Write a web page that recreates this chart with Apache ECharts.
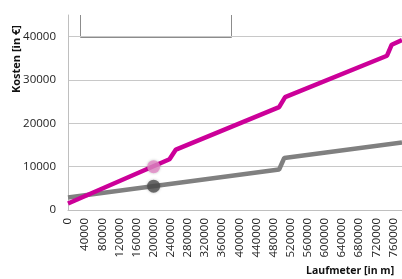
<!DOCTYPE html>
<html lang="de">
<head>
<meta charset="UTF-8">
<title>Kosten</title>
<style>
  html, body { margin: 0; padding: 0; background: #fff; }
  #chart { width: 402px; height: 279px; }
</style>
</head>
<body>
<div id="chart"></div>
<script src="https://cdn.jsdelivr.net/npm/echarts@6/dist/echarts.min.js"></script>
<script>
  // Laufmeter [m] / Kosten [EUR]
  const magentaLine = [
    [0, 1500], [237000, 11700], [252000, 13950], [493000, 23750],
    [507000, 26050], [745000, 35600], [756000, 38150], [780000, 39200]
  ];
  const grayLine = [
    [0, 2900], [493000, 9350], [505000, 12000], [780000, 15600]
  ];
  const magentaPoint = [[200000, 10000]];
  const grayPoint = [[200000, 5500]];

  const xTicks = { min: 0, max: 780000, step: 40000 };
  const yTicks = { min: 0, max: 45000, step: 10000 };

  const font = 'Open Sans';
  const plain = v => String(v);
  const chart = echarts.init(document.getElementById('chart'));

  chart.setOption({
    animation: false,
    grid: { left: 68, right: -2, top: 15, bottom: 69 },
    xAxis: {
      type: 'value',
      min: xTicks.min, max: xTicks.max, interval: xTicks.step,
      axisLine: { show: true, onZero: false, lineStyle: { color: '#bfbfbf', width: 1 } },
      axisTick: { show: false },
      splitLine: { show: false },
      axisLabel: {
        rotate: 90, margin: 8, color: '#222', fontFamily: font, fontSize: 11.5,
        showMaxLabel: false, formatter: plain
      }
    },
    yAxis: {
      type: 'value',
      min: yTicks.min, max: yTicks.max, interval: yTicks.step,
      axisLine: { show: true, lineStyle: { color: '#bfbfbf', width: 1 } },
      axisTick: { show: false },
      splitLine: { show: true, showMaxLine: false, lineStyle: { color: '#c8c8c8', width: 1 } },
      axisLabel: {
        margin: 12, color: '#222', fontFamily: font, fontSize: 11.5,
        showMaxLabel: false, formatter: plain
      }
    },
    graphic: [
      {
        type: 'polyline', silent: true,
        shape: { points: [[80.5, 15], [80.5, 37.5], [231.5, 37.5], [231.5, 15]] },
        style: { stroke: '#8c8c8c', fill: null, lineWidth: 1 }
      },
      {
        type: 'text', x: 11, y: 93, rotation: Math.PI / 2,
        style: { text: 'Kosten [in €]', fill: '#111', font: 'bold 11px "Open Sans"' }
      },
      {
        type: 'text', x: 306, y: 266,
        style: { text: 'Laufmeter [in m]', fill: '#111', font: 'bold 10.5px "Open Sans"' }
      }
    ],
    series: [
      {
        type: 'line', data: grayLine, symbol: 'none',
        lineStyle: { color: '#808080', width: 4.5 }, z: 2
      },
      {
        type: 'line', data: magentaLine, symbol: 'none',
        lineStyle: { color: '#cc0099', width: 4.5 }, z: 3
      },
      {
        type: 'scatter', data: grayPoint, symbolSize: 13, z: 4,
        itemStyle: { color: '#4d4d4d', shadowBlur: 3, shadowColor: 'rgba(0,0,0,0.3)' }
      },
      {
        type: 'scatter', data: magentaPoint, symbolSize: 13, z: 4,
        itemStyle: { color: '#e589c8', shadowBlur: 3, shadowColor: 'rgba(0,0,0,0.3)' }
      }
    ]
  });
</script>
</body>
</html>
